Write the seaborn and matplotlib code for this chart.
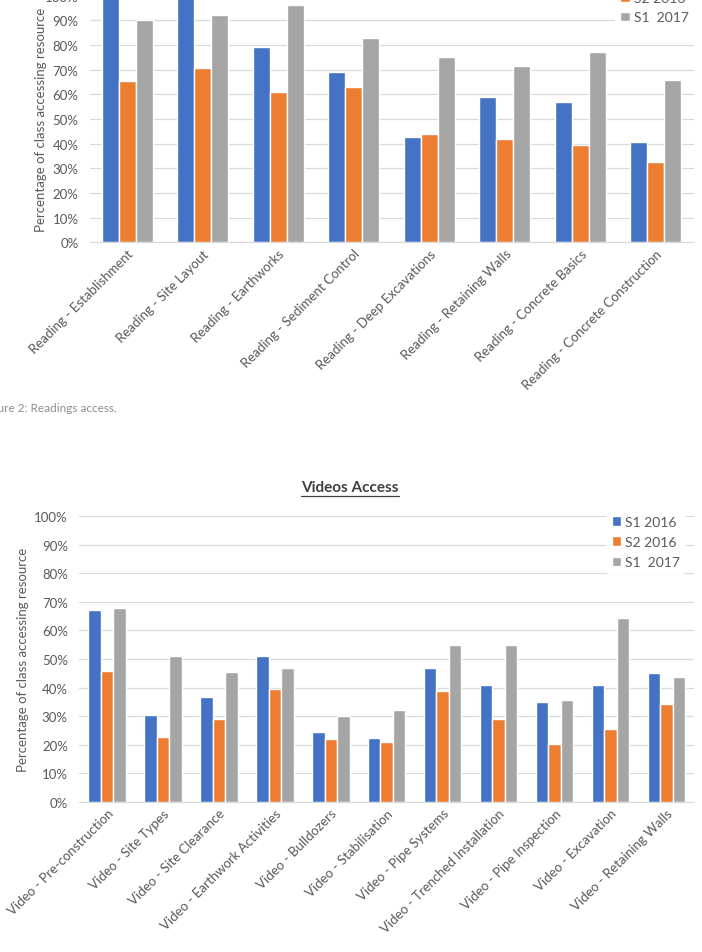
"""
Readings / videos access charts (two stacked grouped bar charts).
"""

import pandas as pd
import numpy as np
import matplotlib
matplotlib.use('Agg')
import matplotlib.pyplot as plt
from matplotlib.lines import Line2D
from matplotlib.ticker import FuncFormatter
import seaborn as sns

# --- data -------------------------------------------------------------
terms = ['S1 2016', 'S2 2016', 'S1  2017']
colors = ['#4472C4', '#ED7D31', '#A5A5A5']

reading_labels = ['Reading - Establishment', 'Reading - Site Layout', 'Reading - Earthworks',
                  'Reading - Sediment Control', 'Reading - Deep Excavations',
                  'Reading - Retaining Walls', 'Reading - Concrete Basics',
                  'Reading - Concrete Construction']
reading_s1_2016 = [100, 100, 79.2, 69.2, 42.8, 58.8, 56.9, 40.5]
reading_s2_2016 = [65.4, 70.8, 61.1, 62.9, 43.7, 41.8, 39.4, 32.4]
reading_s1_2017 = [90.1, 92.1, 96.1, 82.7, 75.3, 71.5, 77.3, 65.8]

video_labels = ['Video - Pre-construction', 'Video - Site Types', 'Video - Site Clearance',
                'Video - Earthwork Activities', 'Video - Bulldozers', 'Video - Stabilisation',
                'Video - Pipe Systems', 'Video - Trenched Installation',
                'Video - Pipe Inspection', 'Video - Excavation', 'Video - Retaining Walls']
video_s1_2016 = [67.2, 30.5, 36.7, 51.2, 24.4, 22.4, 46.9, 40.8, 34.9, 40.9, 45.0]
video_s2_2016 = [45.7, 22.8, 28.9, 39.4, 21.9, 21.0, 38.7, 29.0, 20.2, 25.5, 34.3]
video_s1_2017 = [67.9, 50.9, 45.3, 47.0, 30.1, 32.2, 54.9, 54.9, 35.8, 64.3, 43.6]

TEXT = '#595959'
GRID = '#D9D9D9'


def long_frame(labels, series):
    rows = []
    for term, vals in zip(terms, series):
        for lab, v in zip(labels, vals):
            rows.append({'resource': lab, 'term': term, 'pct': v})
    return pd.DataFrame(rows)


def draw_chart(ax, df, tick_size, ylabel_x, legend_anchor, label_gap):
    sns.barplot(data=df, x='resource', y='pct', hue='term', palette=colors,
                width=0.67, gap=0, saturation=1, ax=ax, errorbar=None)
    ax.set_ylim(0, 100)
    ax.set_yticks(np.arange(0, 101, 10))
    ax.yaxis.set_major_formatter(FuncFormatter(lambda v, _: f'{v:.0f}%'))
    ax.set_axisbelow(True)
    ax.grid(axis='y', color=GRID, linewidth=0.9)
    for s in ['top', 'left', 'right']:
        ax.spines[s].set_visible(False)
    ax.spines['bottom'].set_color(GRID)
    ax.tick_params(axis='both', length=0, colors=TEXT, labelsize=tick_size)
    ax.tick_params(axis='y', pad=8)
    plt.setp(ax.get_xticklabels(), rotation=45, ha='right', rotation_mode='anchor')
    ax.set_xlabel('')
    ax.set_ylabel('Percentage of class accessing resource', color=TEXT, fontsize=tick_size)
    ax.yaxis.set_label_coords(ylabel_x, 0.5)

    handles, labels = ax.get_legend_handles_labels()
    ax.legend(handles, labels, loc='upper left', bbox_to_anchor=legend_anchor,
              frameon=True, facecolor='white', edgecolor='none', framealpha=1,
              handlelength=0.7, handleheight=0.7, handletextpad=0.3,
              labelspacing=label_gap, borderpad=0.4, fontsize=tick_size + 0.5,
              labelcolor=TEXT)


sns.set_style('white')
plt.rcParams['font.family'] = ['Lato', 'DejaVu Sans']

fig = plt.figure(figsize=(7.02, 9.53), dpi=100)
ax1 = fig.add_axes([0.1275, 0.7447, 0.8604, 0.2589])
ax2 = fig.add_axes([0.1125, 0.1574, 0.8768, 0.3001])

draw_chart(ax1, long_frame(reading_labels, [reading_s1_2016, reading_s2_2016, reading_s1_2017]),
           9.5, -0.071, (0.858, 1.14), 0.5)
draw_chart(ax2, long_frame(video_labels, [video_s1_2016, video_s2_2016, video_s1_2017]),
           9.5, -0.082, (0.845, 1.045), 0.6)

# caption under the first chart (cut off at the page edge)
fig.text(117 / 702, 1 - 408 / 953, 'Figure 2: Readings access.', ha='right', va='center',
         fontsize=8.5, color='#8c8c8c')

# underlined title of the second chart
title = fig.text(350 / 702, 1 - 488 / 953, 'Videos Access', ha='center', va='center',
                 fontsize=11, fontweight='bold', color='#404040')
fig.canvas.draw()
bb = title.get_window_extent().transformed(fig.transFigure.inverted())
fig.add_artist(Line2D([bb.x0, bb.x1], [bb.y0 - 0.002, bb.y0 - 0.002],
                      color='#404040', linewidth=0.9, transform=fig.transFigure))

plt.savefig('out.png', dpi=100)
